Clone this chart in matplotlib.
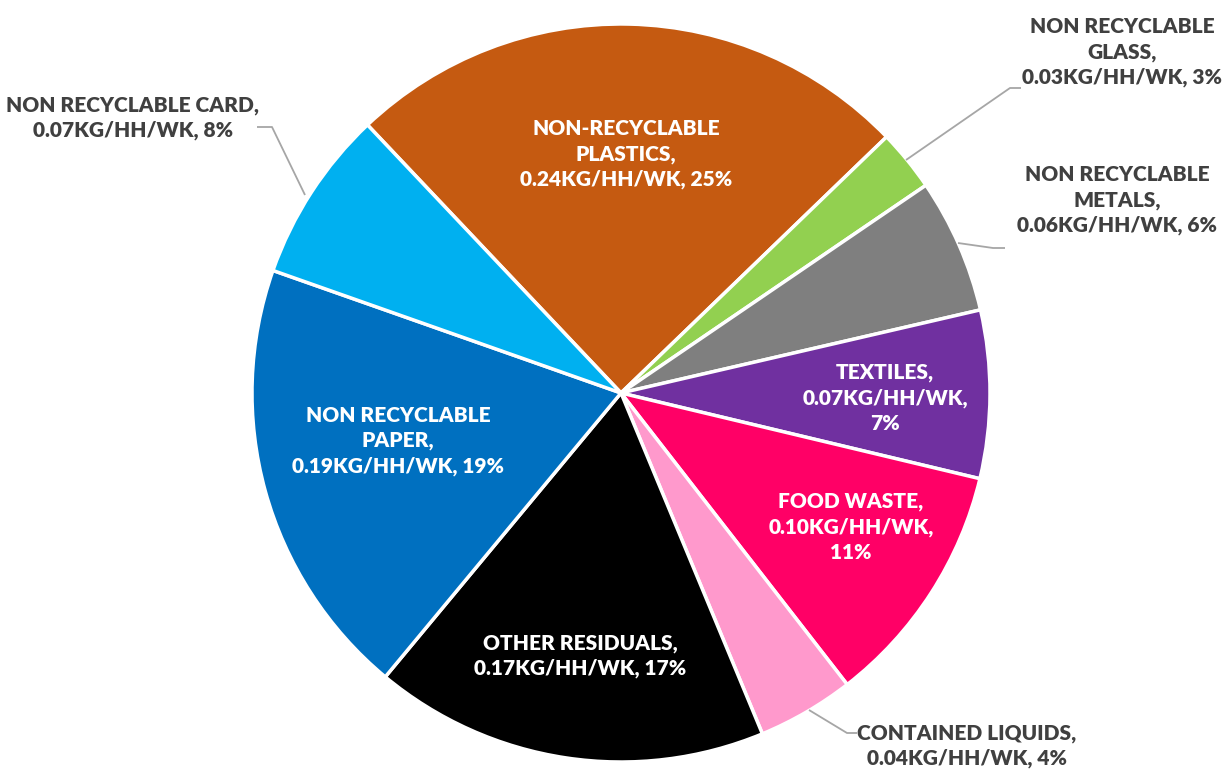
import numpy as np
import matplotlib
matplotlib.use("Agg")
import matplotlib.pyplot as plt

categories = ["NON-RECYCLABLE\nPLASTICS", "NON RECYCLABLE\nGLASS", "NON RECYCLABLE\nMETALS",
              "TEXTILES", "FOOD WASTE", "CONTAINED LIQUIDS", "OTHER RESIDUALS",
              "NON RECYCLABLE\nPAPER", "NON RECYCLABLE CARD"]
kg_values = [0.240, 0.026, 0.057, 0.071, 0.104, 0.041, 0.167, 0.187, 0.073]
colors = ["#C55A11", "#92D050", "#7F7F7F", "#7030A0", "#FF0066", "#FF99CC",
          "#000000", "#0070C0", "#00B0F0"]

W, H = 1225, 771
fig = plt.figure(figsize=(W / 100, H / 100), dpi=100)
ax = fig.add_axes([0, 0, 1, 1])
ax.set_xlim(0, W)
ax.set_ylim(0, H)
ax.set_aspect("equal")
ax.axis("off")

def Y(y):
    return H - y

cx, cy, R = 621, 393, 369
wedges, _ = ax.pie(kg_values, colors=colors, startangle=133.4, counterclock=False,
                   center=(cx, Y(cy)), radius=R, frame=True,
                   wedgeprops=dict(edgecolor="white", linewidth=2.5))
ax.set_xlim(0, W)
ax.set_ylim(0, H)
ax.axis("off")

total = sum(kg_values)
pcts = [v / total * 100 for v in kg_values]

def label_text(i, lines):
    name = categories[i]
    val = f"{kg_values[i]:.2f}KG/HH/WK"
    pct = f"{pcts[i]:.0f}%"
    if lines == "a":   # name lines, then "val, pct"
        return f"{name},\n{val}, {pct}"
    if lines == "b":   # name, val, then pct on its own line
        return f"{name},\n{val},\n{pct}"
    return f"{name}, {val}, {pct}"

font = dict(family="Lato", fontweight="heavy", fontsize=15, linespacing=1.4,
            ha="center", va="center")

# inside labels (white)
inside = {0: ((626, 154), "a"), 3: ((885, 398), "b"), 4: ((851, 527), "b"),
          6: ((580, 656), "a"), 7: ((398, 441), "a")}
for i, ((x, y), mode) in inside.items():
    ax.text(x, Y(y), label_text(i, mode), color="white", **font)

# outside labels (dark gray) with leader lines
outside = {
    8: ((133, 118), "a", [(305, 195), (272, 127), (257, 127)]),
    1: ((1122, 52), "a", [(906, 160), (1010, 88), (1021, 88)]),
    2: ((1117, 200), "a", [(958, 243), (993, 248), (1005, 248)]),
    5: ((967, 746), "a", [(809, 710), (847, 733), (857, 733)]),
}
for i, ((x, y), mode, pts) in outside.items():
    ax.text(x, Y(y), label_text(i, mode), color="#404040", **font)
    xs = [p[0] for p in pts]
    ys = [Y(p[1]) for p in pts]
    ax.plot(xs, ys, color="#A6A6A6", linewidth=1.3, solid_capstyle="butt")

fig.savefig("out.png", dpi=100, facecolor="white")
